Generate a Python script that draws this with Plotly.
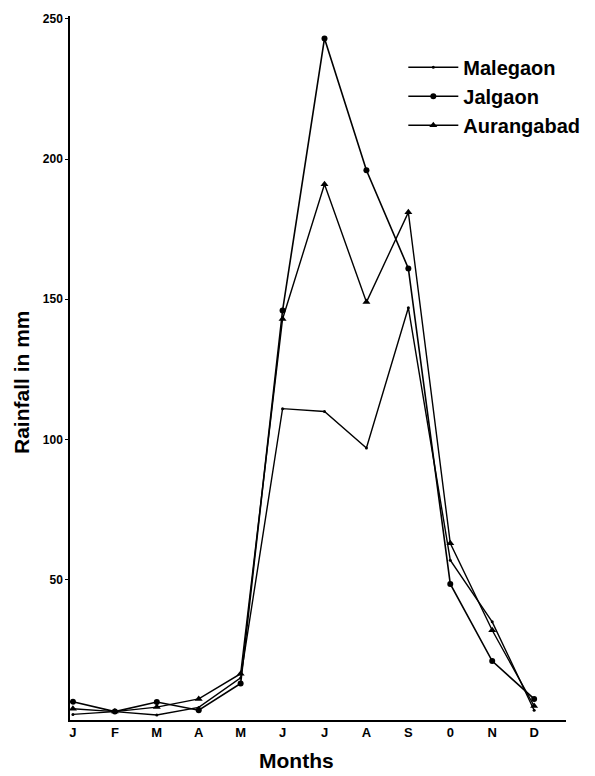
import plotly.graph_objects as go

months = ["J", "F", "M", "A", "M", "J", "J", "A", "S", "0", "N", "D"]
malegaon = [2.0, 3.0, 1.8, 4.5, 15.0, 111, 110, 97, 147, 57, 35, 3.5]
jalgaon = [6.5, 3.0, 6.4, 3.5, 13.0, 146, 243, 196, 161, 48.5, 21, 7.5]
aurangabad = [4.0, 3.0, 4.6, 7.5, 16.5, 143, 191, 149, 181, 63, 32, 5.0]
yticks = [50, 100, 150, 200, 250]

x = list(range(len(months)))

fig = go.Figure()
fig.add_trace(go.Scatter(x=x, y=malegaon, name="Malegaon", mode="lines+markers",
                         line=dict(color="black", width=1.4),
                         marker=dict(symbol="circle", size=3, color="black")))
fig.add_trace(go.Scatter(x=x, y=jalgaon, name="Jalgaon", mode="lines+markers",
                         line=dict(color="black", width=1.6),
                         marker=dict(symbol="circle", size=6, color="black")))
fig.add_trace(go.Scatter(x=x, y=aurangabad, name="Aurangabad", mode="lines+markers",
                         line=dict(color="black", width=1.4),
                         marker=dict(symbol="triangle-up", size=7, color="black")))

fig.update_layout(
    width=595, height=776,
    margin=dict(l=70, r=29, t=16, b=56, autoexpand=False),
    paper_bgcolor="white", plot_bgcolor="white",
    font=dict(family="Liberation Sans, Arial, sans-serif", color="black"),
    showlegend=True,
    legend=dict(x=0.672, y=0.955, xanchor="left", yanchor="top",
                font=dict(size=20, color="black", weight="bold"),
                bgcolor="rgba(0,0,0,0)", itemwidth=50, tracegroupgap=0),
    xaxis=dict(
        range=[-0.07, 11.76], tickmode="array", tickvals=x, ticktext=months,
        showgrid=False, zeroline=False, showline=True, linecolor="black", linewidth=1.5,
        ticks="", tickfont=dict(size=13, family="Liberation Sans", color="black", weight="bold"),
    ),
    yaxis=dict(
        range=[0, 251], tickmode="array", tickvals=yticks, ticktext=[str(v) for v in yticks],
        showgrid=False, zeroline=False, showline=True, linecolor="black", linewidth=1.5,
        ticks="outside", ticklen=3, tickcolor="black",
        tickfont=dict(size=12, family="Liberation Sans Narrow, Liberation Sans", color="black", weight="bold"),
    ),
    annotations=[
        dict(text="Months", xref="paper", yref="paper",
             x=(296 - 70) / 496, y=-(760 - 720) / 704, xanchor="center", yanchor="middle",
             showarrow=False, font=dict(size=21, weight="bold", color="black")),
        dict(text="Rainfall in mm", xref="paper", yref="paper", textangle=-90,
             x=(21 - 70) / 496, y=(720 - 382) / 704, xanchor="center", yanchor="middle",
             showarrow=False, font=dict(size=21, weight="bold", color="black")),
    ],
)

fig.write_html("out.html")
